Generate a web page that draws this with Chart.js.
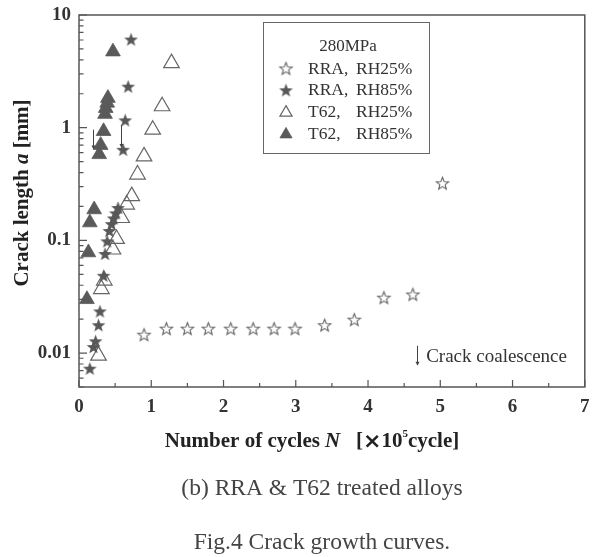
<!DOCTYPE html>
<html lang="en">
<head>
<meta charset="UTF-8">
<title>Fig.4 Crack growth curves</title>
<script src="https://cdn.jsdelivr.net/npm/chart.js"></script>
<style>
  body { margin: 0; background: #fff; }
  canvas { display: block; }
</style>
</head>
<body>
<canvas id="chart" width="595" height="557"></canvas>
<script>
// N in 1e5 cycles, crack length a in mm
const rraRh25N = [0.90, 1.21, 1.50, 1.79, 2.10, 2.41, 2.70, 2.99, 3.40, 3.81, 4.22, 4.62, 5.03];
const rraRh25A = [0.0144, 0.0163, 0.0163, 0.0163, 0.0163, 0.0163, 0.0163, 0.0163, 0.0175, 0.0196, 0.0307, 0.0328, 0.318];

const rraRh85N = [0.15, 0.20, 0.23, 0.27, 0.29, 0.34, 0.36, 0.39, 0.42, 0.45, 0.48, 0.51, 0.54, 0.61, 0.64, 0.68, 0.72];
const rraRh85A = [0.0072, 0.0112, 0.0126, 0.0175, 0.0232, 0.048, 0.075, 0.097, 0.12, 0.138, 0.155, 0.172, 0.192, 0.63, 1.15, 2.29, 6.0];

const t62Rh25N = [0.27, 0.31, 0.35, 0.47, 0.52, 0.59, 0.66, 0.73, 0.81, 0.90, 1.02, 1.15, 1.28];
const t62Rh25A = [0.0095, 0.037, 0.044, 0.083, 0.103, 0.158, 0.208, 0.247, 0.384, 0.557, 0.96, 1.55, 3.74];

const t62Rh85N = [0.11, 0.13, 0.15, 0.21, 0.28, 0.30, 0.34, 0.36, 0.37, 0.39, 0.40, 0.47];
const t62Rh85A = [0.030, 0.078, 0.144, 0.188, 0.58, 0.70, 0.93, 1.32, 1.49, 1.66, 1.83, 4.73];

const seriesLabels = ['RRA, RH25%', 'RRA, RH85%', 'T62, RH25%', 'T62, RH85%'];
const legendTitle = '280MPa';

// crack coalescence arrows: [N, a from, a to]
const coalescenceArrows = [[0.20, 0.96, 0.64], [0.575, 1.06, 0.66]];
const noteArrow = [4.68, 0.0116, 0.0077];
const noteText = 'Crack coalescence';

const xTickValues = [0, 1, 2, 3, 4, 5, 6, 7];
const yTickValues = [0.01, 0.1, 1, 10];

const serif = '"Liberation Serif", "DejaVu Serif", serif';
const ink = '#555';

function starImage(outer, inner, filled) {
  const size = Math.ceil(outer * 2 + 4);
  const c = document.createElement('canvas');
  c.width = size; c.height = size;
  const g = c.getContext('2d');
  g.beginPath();
  for (let i = 0; i < 10; i++) {
    const r = i % 2 ? inner : outer;
    const ang = -Math.PI / 2 + i * Math.PI / 5;
    g.lineTo(size / 2 + r * Math.cos(ang), size / 2 + r * Math.sin(ang));
  }
  g.closePath();
  if (filled) {
    g.fillStyle = '#585858';
    g.fill();
  } else {
    g.fillStyle = '#fff';
    g.fill();
    g.strokeStyle = '#666';
    g.lineWidth = 1.1;
    g.stroke();
  }
  return c;
}

const openStar = starImage(6.5, 2.8, false);
const fullStar = starImage(7.2, 3.0, true);

function pts(xs, ys) {
  return xs.map((v, i) => ({x: v, y: ys[i]}));
}

const datasets = [
  {label: seriesLabels[0], data: pts(rraRh25N, rraRh25A), pointStyle: openStar, pointRadius: 7},
  {label: seriesLabels[1], data: pts(rraRh85N, rraRh85A), pointStyle: fullStar, pointRadius: 7},
  {label: seriesLabels[2], data: pts(t62Rh25N, t62Rh25A), pointStyle: 'triangle', pointRadius: 9,
   backgroundColor: 'rgba(255,255,255,0)', borderColor: '#666', borderWidth: 1.2},
  {label: seriesLabels[3], data: pts(t62Rh85N, t62Rh85A), pointStyle: 'triangle', pointRadius: 8.5,
   backgroundColor: '#5a5a5a', borderColor: '#5a5a5a', borderWidth: 0.8}
];
datasets.forEach(d => { d.showLine = false; d.pointHoverRadius = d.pointRadius; });

function drawRuns(ctx, runs, cx, cy) {
  let total = 0;
  runs.forEach(r => { ctx.font = r.font; r.w = ctx.measureText(r.text).width; total += r.w; });
  let xx = cx - total / 2;
  runs.forEach(r => { ctx.font = r.font; ctx.fillText(r.text, xx, cy + (r.dy || 0)); xx += r.w; });
}

function arrowDown(ctx, x, y1, y2) {
  ctx.beginPath();
  ctx.moveTo(x, y1); ctx.lineTo(x, y2 - 3);
  ctx.stroke();
  ctx.beginPath();
  ctx.moveTo(x - 2, y2 - 4); ctx.lineTo(x + 2, y2 - 4); ctx.lineTo(x, y2);
  ctx.closePath();
  ctx.fill();
}

const decorations = {
  id: 'decorations',
  afterDraw(chart) {
    const {ctx, chartArea: a, scales: {x, y}} = chart;
    ctx.save();
    // frame
    ctx.strokeStyle = ink;
    ctx.lineWidth = 1.5;
    ctx.strokeRect(a.left, a.top, a.right - a.left, a.bottom - a.top);
    // inward ticks
    ctx.lineWidth = 1.2;
    ctx.beginPath();
    for (let e = -3; e <= 1; e++) {
      for (let m = 1; m <= 9; m++) {
        const v = m * Math.pow(10, e);
        if (v < y.min * 0.999 || v > y.max * 1.001) continue;
        const py = y.getPixelForValue(v);
        ctx.moveTo(a.left, py);
        ctx.lineTo(a.left + (m === 1 ? 8 : 4.5), py);
      }
    }
    for (let v = 0; v <= 7; v += 0.5) {
      const px = x.getPixelForValue(v);
      ctx.moveTo(px, a.bottom);
      ctx.lineTo(px, a.bottom - (Number.isInteger(v) ? 7 : 4));
    }
    ctx.stroke();

    // arrows
    ctx.strokeStyle = '#444';
    ctx.fillStyle = '#444';
    ctx.lineWidth = 1;
    coalescenceArrows.concat([noteArrow]).forEach(([n, a1, a2]) => {
      arrowDown(ctx, Math.round(x.getPixelForValue(n)) + 0.5, y.getPixelForValue(a1), y.getPixelForValue(a2));
    });
    ctx.fillStyle = '#333';
    ctx.font = '19px ' + serif;
    ctx.textAlign = 'left';
    ctx.textBaseline = 'middle';
    ctx.fillText(noteText, x.getPixelForValue(noteArrow[0]) + 9, (y.getPixelForValue(noteArrow[1]) + y.getPixelForValue(noteArrow[2])) / 2 + 1);

    // legend box
    const lx = a.left + 184, ly = a.top + 7, lw = 166, lh = 131;
    ctx.fillStyle = '#fff';
    ctx.fillRect(lx, ly, lw, lh);
    ctx.strokeStyle = '#666';
    ctx.lineWidth = 1;
    ctx.strokeRect(lx + 0.5, ly + 0.5, lw, lh);
    ctx.fillStyle = '#333';
    ctx.font = '17px ' + serif;
    ctx.textAlign = 'center';
    ctx.fillText(legendTitle, lx + 85, ly + 25);
    ctx.textAlign = 'left';
    chart.data.datasets.forEach((d, i) => {
      const ry = ly + 47 + i * 21.8;
      ctx.save();
      ctx.fillStyle = d.backgroundColor || '#585858';
      ctx.strokeStyle = d.borderColor || '#585858';
      const legendStyle = d.pointStyle === 'triangle'
        ? {pointStyle: 'triangle', radius: 7, borderWidth: d.borderWidth}
        : {pointStyle: d.pointStyle, radius: 6, borderWidth: 0};
      if (d.pointStyle === 'triangle') ctx.lineWidth = d.borderWidth;
      Chart.helpers.drawPoint(ctx, legendStyle, lx + 23, ry);
      ctx.restore();
      const parts = d.label.split(', ');
      ctx.font = '17.5px ' + serif;
      ctx.fillStyle = '#333';
      ctx.fillText(parts[0] + ',', lx + 45, ry);
      ctx.fillText(parts[1], lx + 93, ry);
    });

    // axis titles
    ctx.fillStyle = '#222';
    ctx.textAlign = 'left';
    ctx.textBaseline = 'middle';
    const b = 'bold 21px ' + serif, bi = 'italic bold 21px ' + serif;
    ctx.save();
    ctx.translate(23, (a.top + a.bottom) / 2 - 8);
    ctx.rotate(-Math.PI / 2);
    drawRuns(ctx, [
      {text: 'Crack length ', font: b},
      {text: 'a', font: bi},
      {text: ' [mm]', font: b}
    ], 0, 0);
    ctx.restore();

    const xb = 'bold 21px ' + serif;
    drawRuns(ctx, [
      {text: 'Number of cycles ', font: xb},
      {text: 'N', font: 'italic ' + xb},
      {text: '   [', font: xb},
      {text: '\u00d7', font: 'bold 22px "DejaVu Sans", sans-serif'},
      {text: '10', font: xb},
      {text: '5', font: 'bold 11px ' + serif, dy: -8},
      {text: 'cycle]', font: xb}
    ], 312, 442);

    // captions
    ctx.fillStyle = '#444';
    ctx.font = '23.5px ' + serif;
    ctx.textAlign = 'center';
    ctx.fillText('(b) RRA & T62 treated alloys', 322, 489);
    ctx.fillText('Fig.4 Crack growth curves.', 322, 543);
    ctx.restore();
  }
};

new Chart(document.getElementById('chart'), {
  type: 'scatter',
  data: {datasets: datasets},
  options: {
    responsive: false,
    animation: false,
    layout: {padding: {left: 0, top: 15, right: 8, bottom: 0}},
    plugins: {legend: {display: false}, tooltip: {enabled: false}},
    scales: {
      x: {
        type: 'linear',
        min: 0, max: 7,
        afterFit: s => { s.height = 170; },
        afterBuildTicks: s => { s.ticks = xTickValues.map(v => ({value: v})); },
        grid: {display: false},
        border: {display: false},
        ticks: {
          padding: 1,
          color: '#333',
          font: {family: serif, size: 19, weight: 'bold'},
          maxRotation: 0
        }
      },
      y: {
        type: 'logarithmic',
        min: 0.005, max: 10,
        afterFit: s => { s.width = 79; },
        afterBuildTicks: s => { s.ticks = yTickValues.map(v => ({value: v})); },
        grid: {display: false},
        border: {display: false},
        ticks: {
          padding: 0,
          color: '#333',
          font: {family: serif, size: 19, weight: 'bold'},
          autoSkip: false,
          callback: v => String(v)
        }
      }
    }
  },
  plugins: [decorations]
});
</script>
</body>
</html>
